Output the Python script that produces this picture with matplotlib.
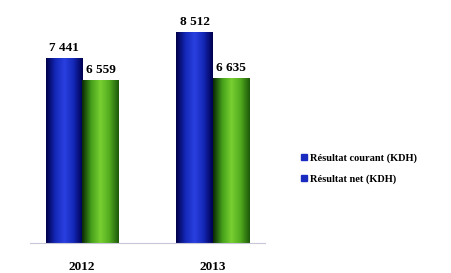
import numpy as np
import matplotlib.pyplot as plt
from matplotlib.colors import LinearSegmentedColormap
from matplotlib.lines import Line2D

years = ["2012", "2013"]
courant = [7441, 8512]
net = [6559, 6635]
labels = ["Résultat courant (KDH)", "Résultat net (KDH)"]

plt.rcParams['font.family'] = ['Liberation Serif', 'DejaVu Serif']

fig = plt.figure(figsize=(4.51, 2.73), dpi=100)
ax = fig.add_axes([30 / 451, 30 / 273, 235 / 451, 233 / 273])

blue_cm = LinearSegmentedColormap.from_list("b", ["#00004a", "#1428b8", "#2a40e0", "#1428b8", "#000050"])
green_cm = LinearSegmentedColormap.from_list("g", ["#0a2a05", "#46a01a", "#78d032", "#52ab1e", "#1e5a0a"])

w = 0.28
x = np.arange(len(years))
grad = np.linspace(0, 1, 64).reshape(1, -1)
for i in x:
    for val, off, cm in [(courant[i], -w / 2, blue_cm), (net[i], w / 2, green_cm)]:
        left = i + off - w / 2
        ax.imshow(grad, cmap=cm, aspect="auto", extent=[left, left + w, 0, val], zorder=2)
        ax.text(i + off, val + 180, f"{val:,}".replace(",", " "), ha="center", va="bottom",
                fontsize=9.5, fontweight="bold")

ax.set_xlim(-0.4, 1.4)
ax.set_ylim(0, 9400)
ax.set_xticks(x)
ax.set_xticklabels(years, fontsize=9.5, fontweight="bold")
ax.tick_params(axis="x", length=0, pad=13)
ax.set_yticks([])
for s in ["top", "right", "left"]:
    ax.spines[s].set_visible(False)
ax.spines["bottom"].set_color("#c8c8d8")

handles = [Line2D([], [], marker="s", color="#1a2bc0", linestyle="", markersize=4) for _ in labels]
fig.legend(handles, labels, loc="center left", bbox_to_anchor=(290 / 451, 1 - 169 / 273),
           frameon=False, handletextpad=0.2, handlelength=0.8,
           labelspacing=1.1, prop={"weight": "bold", "size": 7.5})

fig.savefig("out.png", dpi=100)
